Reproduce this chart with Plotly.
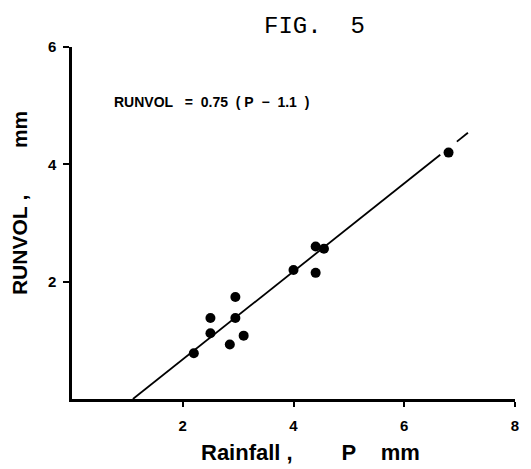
import plotly.graph_objects as go

# Data
rainfall_p = [2.2, 2.5, 2.5, 2.85, 2.95, 2.95, 3.1, 4.0, 4.4, 4.4, 4.55, 6.8]
runvol = [0.78, 1.12, 1.38, 0.93, 1.38, 1.74, 1.08, 2.2, 2.15, 2.6, 2.56, 4.2]

fit_slope = 0.75
fit_p0 = 1.1
fit_x_main = [1.1, 6.65]
fit_x_tail = [6.95, 7.15]

x_ticks = [2, 4, 6, 8]
y_ticks = [2, 4, 6]

def fit(xs):
    return [fit_slope * (x - fit_p0) for x in xs]

fig = go.Figure()
fig.add_trace(go.Scatter(x=fit_x_main, y=fit(fit_x_main), mode="lines",
                         line=dict(color="black", width=1.8), showlegend=False))
fig.add_trace(go.Scatter(x=fit_x_tail, y=fit(fit_x_tail), mode="lines",
                         line=dict(color="black", width=1.8), showlegend=False))
fig.add_trace(go.Scatter(x=rainfall_p, y=runvol, mode="markers",
                         marker=dict(color="black", size=10, line=dict(width=0)),
                         showlegend=False))

sans = "Liberation Sans"
nb = "&nbsp;"
eq_text = ("<b>RUNVOL" + nb * 3 + "=" + nb * 2 + "0.75" + nb * 2 + "(" + nb + "P" + nb * 2
           + "−" + nb * 2 + "1.1" + nb * 2 + ")</b>")
fig.update_layout(
    width=531, height=469,
    margin=dict(l=72, r=13, t=47, b=70),
    paper_bgcolor="white", plot_bgcolor="white",
    font=dict(family=sans, color="black"),
    xaxis=dict(range=[0, 8], tickvals=x_ticks, ticktext=[f"<b>{v}</b>" for v in x_ticks],
               showline=True, linecolor="black", linewidth=2.5, showgrid=False,
               zeroline=False, ticks="outside", ticklen=5, tickwidth=2,
               tickcolor="black", ticklabelstandoff=6,
               tickfont=dict(size=15, family=sans, color="black")),
    yaxis=dict(range=[0, 6], tickvals=y_ticks, ticktext=[f"<b>{v}</b>" for v in y_ticks],
               showline=True, linecolor="black", linewidth=2.5, showgrid=False,
               zeroline=False, ticks="outside", ticklen=6, tickwidth=2,
               tickcolor="black", ticklabelstandoff=4,
               tickfont=dict(size=15, family=sans, color="black")),
    annotations=[
        dict(text="FIG." + nb * 2 + "5", x=0.547, y=1.057, xref="paper", yref="paper",
             xanchor="center", yanchor="middle",
             showarrow=False, font=dict(family="Liberation Mono", size=24, color="black")),
        dict(text=eq_text, x=0.72, y=5.06, xref="x", yref="y",
             xanchor="left", yanchor="middle",
             showarrow=False, font=dict(family=sans, size=14, color="black")),
        dict(text="<b>Rainfall" + nb + "," + nb * 8 + "P" + nb * 4 + "mm</b>", x=0.539, y=-0.151,
             xref="paper", yref="paper", xanchor="center", yanchor="middle",
             showarrow=False, font=dict(family=sans, size=22, color="black")),
        dict(text="<b>RUNVOL" + nb + "," + nb * 8 + "mm</b>", x=-0.117, y=0.557,
             xref="paper", yref="paper", xanchor="center", yanchor="middle",
             showarrow=False, textangle=-90, font=dict(family=sans, size=21, color="black")),
    ],
)

fig.write_html("out.html")
